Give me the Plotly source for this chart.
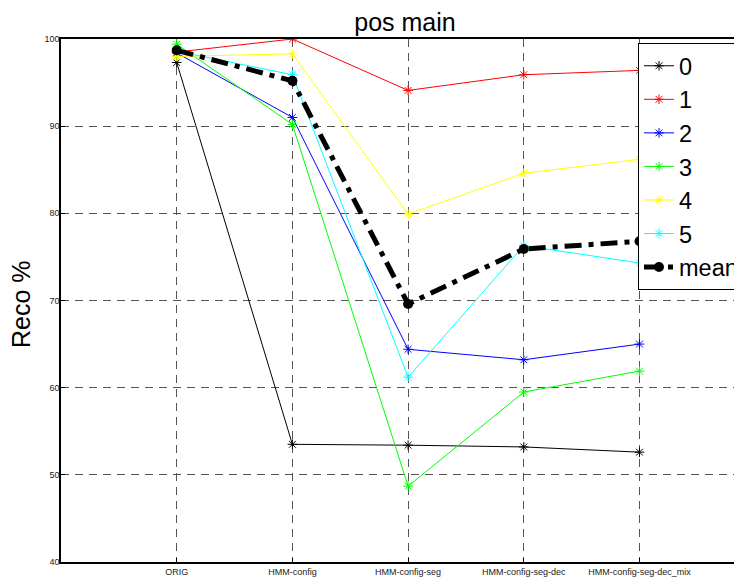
import plotly.graph_objects as go

categories = ["ORIG", "HMM-config", "HMM-config-seg", "HMM-config-seg-dec", "HMM-config-seg-dec_mix"]
y_ticks = [40, 50, 60, 70, 80, 90, 100]

s0 = [97.3, 53.5, 53.4, 53.2, 52.6]
s1 = [98.5, 100.0, 94.1, 95.9, 96.4]
s2 = [98.4, 91.0, 64.4, 63.2, 65.0]
s3 = [99.4, 90.2, 48.7, 59.5, 61.9]
s4 = [98.0, 98.3, 79.9, 84.6, 86.2]
s5 = [98.6, 95.9, 61.2, 76.3, 74.3]
mean = [98.7, 95.2, 69.6, 75.9, 76.8]

series_names = ["0", "1", "2", "3", "4", "5"]
series_vals = [s0, s1, s2, s3, s4, s5]
series_colors = ["#000000", "#FF0000", "#0000FF", "#00FF00", "#FFFF00", "#00FFFF"]

FONT = "Liberation Sans, Arial, Helvetica, sans-serif"

# page body has an 8px margin; layout below is expressed in figure pixels
OFF = 8
W, H = 742, 577
L = 61 - OFF
T = 39 - OFF
PLOT_BOTTOM = 562 - OFF
B = H - PLOT_BOTTOM
PW = W - L
PH = PLOT_BOTTOM - T
PX_PER_CAT = 115.7

fig = go.Figure()
for name, vals, col in zip(series_names, series_vals, series_colors):
    fig.add_trace(go.Scatter(
        x=categories, y=vals, name=name, mode="lines+markers",
        line=dict(color=col, width=1),
        marker=dict(symbol="asterisk-open", size=8, color=col,
                    line=dict(color=col, width=1)),
    ))
fig.add_trace(go.Scatter(
    x=categories, y=mean, name="mean", mode="lines+markers",
    line=dict(color="#000000", width=5, dash="17px,7px,5px,7px"),
    marker=dict(symbol="circle", size=10, color="#000000"),
))

grid_color = "#555555"
fig.update_layout(
    width=W, height=H,
    margin=dict(l=L, r=0, t=T, b=B, autoexpand=False),
    paper_bgcolor="white", plot_bgcolor="white",
    font=dict(family=FONT, color="#000000"),
    title=dict(text="pos main", font=dict(size=25, family=FONT, color="#000000"),
               xref="container", x=(405 - OFF) / W, xanchor="center",
               yref="container", y=1 - (22 - OFF) / H, yanchor="middle"),
    xaxis=dict(
        type="category", categoryorder="array", categoryarray=categories,
        range=[-1, -1 + PW / PX_PER_CAT],
        showline=True, linecolor="#000000", linewidth=1.5, mirror=True,
        showgrid=True, gridcolor=grid_color, gridwidth=1, griddash="8px,6px",
        ticks="inside", ticklen=4, tickcolor="#000000",
        tickfont=dict(size=9, family=FONT, color="#222222"),
        zeroline=False,
    ),
    yaxis=dict(
        range=[40, 100], tickvals=y_ticks,
        showline=True, linecolor="#000000", linewidth=1.5, mirror=False,
        showgrid=True, gridcolor=grid_color, gridwidth=1, griddash="8px,6px",
        ticks="inside", ticklen=4, tickcolor="#000000",
        tickfont=dict(size=9, family=FONT, color="#222222"),
        ticklabelstandoff=-2,
        zeroline=False,
    ),
    legend=dict(
        x=(638 - OFF - L) / PW, xanchor="left",
        y=1 - (43 - OFF - T) / PH, yanchor="top",
        bgcolor="white", bordercolor="#000000", borderwidth=1,
        font=dict(size=23.5, family=FONT, color="#000000"),
        itemwidth=30,
    ),
    showlegend=True,
    annotations=[dict(
        text="Reco %", textangle=-90, showarrow=False,
        xref="paper", yref="paper",
        x=(21 - OFF - L) / PW, y=(PLOT_BOTTOM - (304 - OFF)) / PH,
        xanchor="center", yanchor="middle",
        font=dict(size=25, family=FONT, color="#000000"),
    )],
)

fig.write_html("out.html")
